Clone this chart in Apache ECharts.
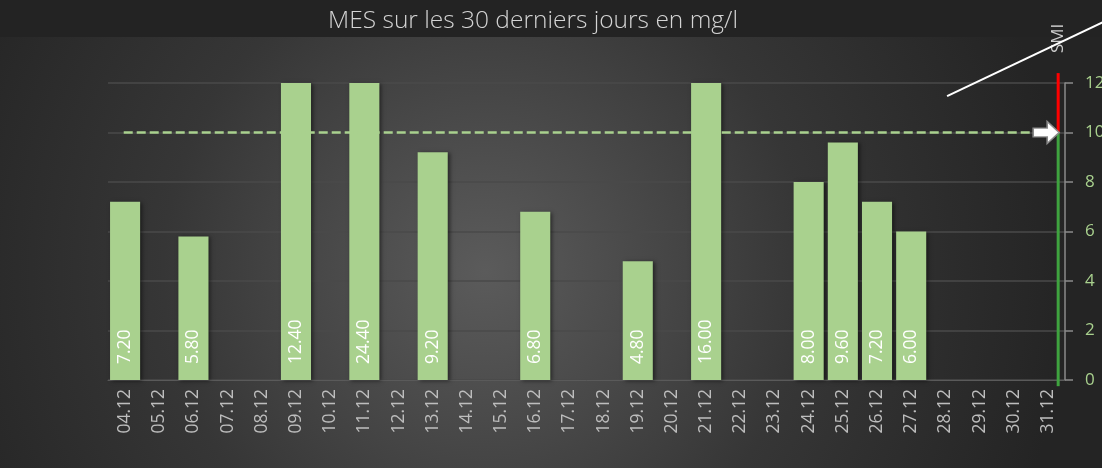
<!DOCTYPE html>
<html>
<head>
<meta charset="utf-8">
<script src="https://cdn.jsdelivr.net/npm/echarts@6/dist/echarts.min.js"></script>
<style>
  html, body { margin: 0; padding: 0; background: #262626; }
  #chart { width: 1102px; height: 468px; }
</style>
</head>
<body>
<div id="chart"></div>
<script>
const days = ['04.12', '05.12', '06.12', '07.12', '08.12', '09.12', '10.12', '11.12', '12.12', '13.12',
    '14.12', '15.12', '16.12', '17.12', '18.12', '19.12', '20.12', '21.12', '22.12', '23.12',
    '24.12', '25.12', '26.12', '27.12', '28.12', '29.12', '30.12', '31.12']
const mesValues = [7.2, null, 5.8, null, null, 12.4, null, 24.4, null, 9.2,
    null, null, 6.8, null, null, 4.8, null, 16.0, null, null,
    8.0, 9.6, 7.2, 6.0, null, null, null, null]
const yTicks = [0, 2, 4, 6, 8, 10, 12]

// seuil SMI et décorations (axe x de valeur caché, 0..28 = largeur des catégories)
const smiLimit = 10
const thresholdLine = [[0.46, 10], [27.2, 10]]
const okSegment = [[27.8, -0.25], [27.8, 10]]
const overSegment = [[27.8, 10], [27.8, 12.4]]
const smiPointer = [[24.55, 11.47], [29.1, 14.45]]
const arrowAt = [27.45, 10]

const green = '#a9d18e'

const chart = echarts.init(document.getElementById('chart'))

const opt = {
    backgroundColor: {
        type: 'radial', x: 0.44, y: 0.58, r: 1.25,
        colorStops: [
            { offset: 0, color: '#5b5b5b' },
            { offset: 0.55, color: '#363636' },
            { offset: 1, color: '#242424' }
        ]
    },
    animation: false,
    title: {
        text: 'MES sur les 30 derniers jours en mg/l',
        left: 528,
        textAlign: 'center',
        top: 4,
        textStyle: {
            color: '#d4d4d4',
            fontFamily: 'Open Sans',
            fontWeight: 300,
            fontSize: 24.5
        }
    },
    grid: {
        top: 83,
        left: 108,
        right: 37,
        bottom: 88,
        containLabel: false,
        outerBoundsMode: 'none'
    },
    xAxis: [
        {
            type: 'category',
            data: days,
            axisLine: { lineStyle: { color: '#5a5a5a', width: 1 } },
            axisTick: { show: false },
            axisLabel: {
                interval: 0,
                rotate: 90,
                color: '#bdbdbd',
                fontSize: 17.5,
                fontFamily: 'Open Sans',
                margin: 9
            }
        },
        {
            type: 'value', min: 0, max: 28, show: false
        }
    ],
    yAxis: {
        type: 'value',
        position: 'right',
        min: yTicks[0],
        max: yTicks[yTicks.length - 1],
        interval: 2,
        axisLine: { show: true, onZero: false, lineStyle: { color: '#8a8a8a', width: 1.5 } },
        axisTick: { show: true, length: 8, lineStyle: { color: '#8a8a8a', width: 1.5 } },
        axisLabel: { color: green, fontSize: 17, fontFamily: 'Open Sans', margin: 20 },
        splitLine: { lineStyle: { color: '#4a4a4a', width: 1.5 } }
    },
    series: [
        {
            type: 'bar',
            data: mesValues,
            barCategoryGap: '12%',
            itemStyle: {
                color: green,
                shadowBlur: 4,
                shadowColor: 'rgba(0,0,0,0.5)',
                shadowOffsetX: 2,
                shadowOffsetY: 1
            },
            label: {
                show: true,
                position: 'insideBottom',
                rotate: 90,
                align: 'left',
                verticalAlign: 'middle',
                distance: 16,
                color: '#ffffff',
                fontSize: 17.5,
                fontFamily: 'Open Sans',
                formatter: p => p.value.toFixed(2)
            }
        },
        {
            type: 'line',
            xAxisIndex: 1,
            data: thresholdLine,
            symbol: 'none',
            clip: false,
            lineStyle: { color: green, width: 2.5, type: [9, 4] },
            markPoint: {
                symbol: 'path://M0,6 L14,6 L14,0 L26,10 L14,20 L14,14 L0,14 Z',
                symbolSize: [26, 22],
                itemStyle: { color: '#ffffff', borderColor: '#8a8a8a', borderWidth: 1.5 },
                label: { show: false },
                data: [{ coord: arrowAt, value: smiLimit }]
            },
            z: 3
        },
        {
            type: 'line',
            xAxisIndex: 1,
            data: okSegment,
            symbol: 'none',
            clip: false,
            lineStyle: { color: '#3fa33f', width: 3 },
            z: 4
        },
        {
            type: 'line',
            xAxisIndex: 1,
            data: overSegment,
            symbol: 'none',
            clip: false,
            lineStyle: { color: '#ff0000', width: 3 },
            z: 4
        }
    ]
}

chart.setOption(opt)

// trait vers l'étiquette SMI, placé via les échelles du graphique
const p0 = chart.convertToPixel({ xAxisIndex: 1, yAxisIndex: 0 }, smiPointer[0])
const p1 = chart.convertToPixel({ xAxisIndex: 1, yAxisIndex: 0 }, smiPointer[1])
chart.setOption({
    graphic: [
        {
            type: 'rect', z: -1, silent: true,
            shape: { x: 0, y: 0, width: 1102, height: 37 },
            style: { fill: '#232323' }
        },
        {
            type: 'text', rotation: Math.PI / 2, x: 1058, y: 53, silent: true,
            style: { text: 'SMI', fill: '#cfcfcf', font: '17px "Open Sans"', align: 'left', verticalAlign: 'middle' }
        },
        {
            type: 'line', silent: true, z: 10,
            shape: { x1: p0[0], y1: p0[1], x2: p1[0], y2: p1[1] },
            style: { stroke: '#ffffff', lineWidth: 2 }
        }
    ]
})
</script>
</body>
</html>
